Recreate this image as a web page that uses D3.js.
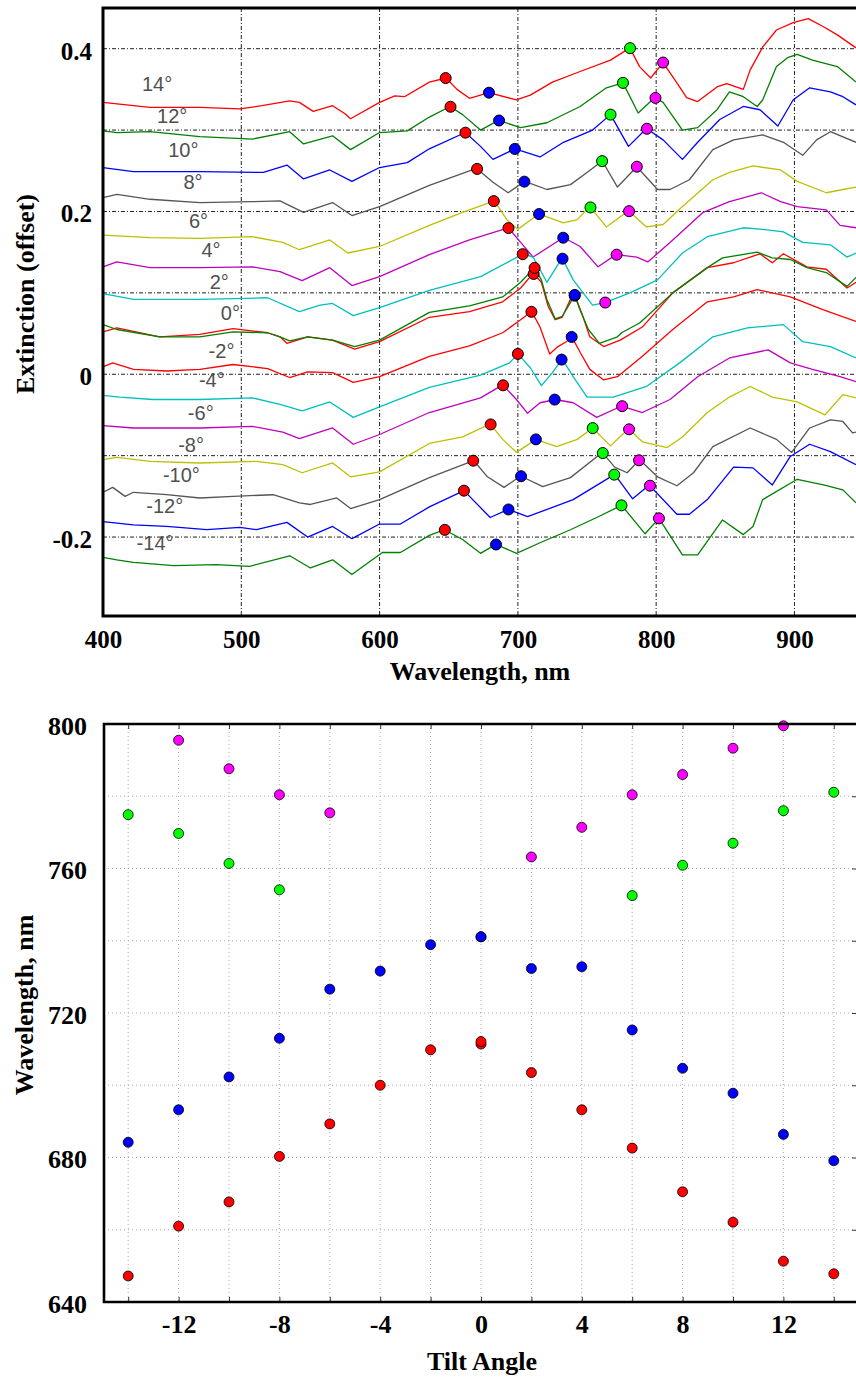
<!DOCTYPE html>
<html lang="en">
<head>
<meta charset="UTF-8">
<title>Extinction spectra vs tilt angle</title>
<script src="https://d3js.org/d3.v7.min.js"></script>
<style>
    body { margin: 0; background: #fff; }
    svg { display: block; }
</style>
</head>
<body>

<svg width="856" height="1378"></svg>

<script>

    // ---- data ----
    var wlTicks = [400, 500, 600, 700, 800, 900];
    var extTicks = [0.4, 0.2, 0, -0.2];
    var extGrid = [0.4, 0.3, 0.2, 0.1, 0, -0.1, -0.2];
    var tiltTicks = [-12, -8, -4, 0, 4, 8, 12];
    var tiltGrid = [-14, -12, -10, -8, -6, -4, -2, 0, 2, 4, 6, 8, 10, 12, 14];
    var peakTicks = [640, 680, 720, 760, 800];
    var peakGrid = [660, 680, 700, 720, 740, 760, 780];

    // one entry per spectrum (0° was measured twice)
    var curveAngles = [14, 12, 10, 8, 6, 4, 2, 0, 0, -2, -4, -6, -8, -10, -12, -14];
    var labelAngles = [14, 12, 10, 8, 6, 4, 2, 0, -2, -4, -6, -8, -10, -12, -14];

    // peak wavelengths (nm) for every spectrum, null = no peak marked
    var redPeak     = [647.8, 651.3, 662.1, 670.5, 682.6, 693.2, 703.5, 711.4, 712.1, 709.8, 700.0, 689.3, 680.3, 667.7, 661.0, 647.2];
    var bluePeak    = [679.1, 686.4, 697.8, 704.7, 715.3, 732.8, 732.3, 741.1, 741.1, 738.9, 731.6, 726.6, 713.0, 702.3, 693.2, 684.2];
    var greenPeak   = [781.1, 776.0, 767.0, 760.9, 752.5, null, null, null, null, null, null, null, 754.1, 761.4, 769.7, 774.9];
    var magentaPeak = [805.0, 799.5, 793.3, 786.0, 780.4, 771.4, 763.2, null, null, null, null, 775.4, 780.4, 787.6, 795.5, 802.0];

    // spectra: [wavelength nm, extinction (offset)]
    var s14 = [[400,0.334],[434,0.328],[470,0.328],[499,0.326],[515,0.330],[535,0.336],[542,0.334],[552,0.323],[566,0.330],[575,0.320],[579,0.314],[600,0.334],[611,0.342],[618,0.341],[636,0.359],[648,0.364],[656,0.350],[665,0.339],[679,0.346],[699,0.337],[709,0.343],[725,0.359],[745,0.372],[767,0.386],[781,0.401],[788,0.378],[796,0.364],[805,0.383],[815,0.358],[822,0.340],[830,0.335],[844,0.353],[851,0.357],[863,0.350],[868,0.374],[877,0.402],[887,0.423],[899,0.432],[910,0.437],[921,0.427],[931,0.417],[944.5,0.401]];
    var s12 = [[400,0.299],[410,0.297],[434,0.298],[470,0.292],[508,0.289],[535,0.298],[545,0.283],[566,0.293],[579,0.276],[600,0.297],[620,0.299],[636,0.316],[651,0.329],[660,0.319],[673,0.300],[686,0.312],[702,0.303],[721,0.309],[745,0.329],[764,0.352],[776,0.358],[787,0.321],[799,0.340],[805,0.334],[819,0.300],[830,0.303],[844,0.325],[853,0.347],[863,0.341],[873,0.329],[877,0.337],[887,0.378],[895,0.389],[902,0.393],[913,0.386],[931,0.378],[944.5,0.359]];
    var s10 = [[400,0.254],[422,0.249],[470,0.249],[516,0.248],[533,0.257],[545,0.240],[564,0.251],[580,0.237],[600,0.254],[620,0.260],[636,0.277],[662,0.297],[673,0.280],[682,0.264],[698,0.277],[716,0.267],[733,0.285],[754,0.300],[767,0.319],[780,0.280],[793,0.302],[805,0.288],[819,0.264],[830,0.285],[846,0.313],[863,0.329],[875,0.325],[888,0.305],[899,0.337],[911,0.352],[926,0.347],[935,0.341],[944.5,0.331]];
    var s8 = [[400,0.217],[410,0.221],[434,0.215],[470,0.211],[508,0.212],[528,0.213],[545,0.199],[566,0.211],[580,0.195],[600,0.206],[636,0.232],[670,0.253],[682,0.236],[693,0.223],[705,0.237],[721,0.227],[738,0.233],[750,0.248],[761,0.262],[772,0.230],[786,0.255],[801,0.227],[810,0.227],[824,0.239],[841,0.276],[856,0.288],[877,0.294],[892,0.285],[906,0.269],[916,0.288],[926,0.298],[944.5,0.285]];
    var s6 = [[400,0.171],[434,0.168],[470,0.167],[508,0.169],[530,0.162],[542,0.153],[564,0.165],[577,0.149],[600,0.157],[636,0.183],[660,0.199],[683,0.213],[692,0.190],[700,0.178],[715,0.197],[733,0.186],[743,0.190],[752,0.206],[764,0.181],[780,0.201],[793,0.181],[805,0.184],[819,0.206],[841,0.239],[853,0.248],[870,0.256],[890,0.251],[902,0.237],[923,0.223],[935,0.227],[944.5,0.230]];
    var s4 = [[400,0.132],[410,0.138],[434,0.131],[470,0.131],[508,0.132],[528,0.126],[544,0.115],[564,0.131],[580,0.109],[600,0.120],[636,0.147],[665,0.165],[693,0.180],[702,0.162],[711,0.144],[733,0.168],[745,0.157],[758,0.132],[771,0.147],[786,0.144],[794,0.138],[810,0.162],[834,0.199],[853,0.212],[876,0.223],[890,0.212],[902,0.206],[923,0.202],[933,0.183],[944.5,0.180]];
    var s2 = [[400,0.099],[422,0.092],[470,0.092],[519,0.094],[542,0.077],[557,0.085],[566,0.087],[581,0.072],[600,0.082],[636,0.103],[673,0.120],[704,0.148],[711,0.144],[721,0.113],[732,0.143],[740,0.116],[754,0.085],[763,0.088],[781,0.100],[801,0.116],[819,0.149],[837,0.169],[863,0.180],[877,0.178],[892,0.175],[906,0.162],[926,0.159],[938,0.144],[944.5,0.149]];
    var s0a = [[400,0.052],[410,0.057],[441,0.046],[470,0.049],[494,0.056],[519,0.051],[528,0.046],[533,0.038],[548,0.046],[566,0.042],[582,0.031],[600,0.040],[636,0.070],[665,0.077],[689,0.089],[702,0.106],[711,0.124],[717,0.113],[722,0.083],[727,0.067],[732,0.070],[738,0.092],[741,0.097],[746,0.076],[752,0.046],[762,0.034],[774,0.042],[790,0.058],[812,0.100],[837,0.131],[856,0.137],[875,0.148],[884,0.137],[892,0.148],[909,0.132],[923,0.129],[938,0.106],[944.5,0.113]];
    var s0b = [[400,0.061],[410,0.055],[441,0.046],[470,0.046],[494,0.052],[519,0.051],[528,0.046],[535,0.041],[548,0.046],[566,0.042],[582,0.034],[600,0.042],[636,0.076],[665,0.084],[689,0.095],[702,0.113],[712,0.131],[717,0.116],[721,0.092],[727,0.068],[732,0.071],[738,0.088],[741,0.098],[745,0.079],[751,0.055],[759,0.038],[772,0.046],[775,0.051],[788,0.063],[812,0.100],[837,0.131],[848,0.143],[873,0.150],[884,0.143],[897,0.141],[909,0.131],[923,0.125],[938,0.108],[944.5,0.119]];
    var sm2 = [[400,0.009],[407,0.014],[422,0.006],[446,0.004],[470,0.006],[494,0.012],[519,0.007],[535,-0.004],[548,0.003],[566,0.002],[581,-0.010],[600,-0.003],[636,0.022],[665,0.035],[689,0.051],[702,0.067],[710,0.077],[716,0.058],[723,0.025],[729,0.034],[735,0.040],[739,0.046],[745,0.027],[752,0.006],[762,-0.007],[772,-0.003],[790,0.022],[812,0.055],[837,0.089],[856,0.095],[873,0.104],[897,0.095],[921,0.079],[944.5,0.065]];
    var sm4 = [[400,-0.026],[412,-0.028],[436,-0.031],[470,-0.031],[508,-0.029],[528,-0.037],[544,-0.045],[564,-0.034],[581,-0.053],[600,-0.040],[636,-0.016],[673,-0.001],[694,0.014],[700,0.025],[709,0.008],[717,-0.014],[725,0.002],[732,0.019],[740,-0.003],[750,-0.028],[769,-0.028],[793,-0.015],[817,0.014],[841,0.046],[866,0.057],[892,0.061],[906,0.040],[926,0.034],[944.5,0.020]];
    var sm6 = [[400,-0.063],[422,-0.066],[470,-0.066],[508,-0.064],[530,-0.071],[542,-0.079],[566,-0.066],[581,-0.086],[600,-0.074],[636,-0.047],[673,-0.029],[689,-0.013],[699,-0.031],[707,-0.048],[716,-0.035],[727,-0.031],[740,-0.035],[757,-0.053],[775,-0.039],[790,-0.047],[810,-0.031],[830,-0.003],[853,0.020],[881,0.030],[897,0.014],[913,0.006],[933,-0.003],[944.5,-0.009]];
    var sm8 = [[400,-0.105],[410,-0.102],[434,-0.107],[470,-0.109],[511,-0.107],[530,-0.111],[544,-0.121],[566,-0.109],[579,-0.126],[600,-0.120],[636,-0.085],[660,-0.077],[680,-0.061],[689,-0.080],[699,-0.096],[713,-0.080],[728,-0.089],[743,-0.080],[754,-0.066],[767,-0.088],[780,-0.067],[790,-0.083],[808,-0.090],[819,-0.077],[837,-0.047],[853,-0.028],[868,-0.015],[884,-0.028],[902,-0.034],[922,-0.050],[935,-0.025],[944.5,-0.029]];
    var sm10 = [[400,-0.145],[407,-0.139],[416,-0.150],[422,-0.145],[446,-0.148],[470,-0.152],[494,-0.150],[523,-0.148],[542,-0.158],[550,-0.160],[569,-0.152],[579,-0.165],[600,-0.154],[636,-0.127],[668,-0.106],[678,-0.126],[690,-0.139],[702,-0.125],[718,-0.138],[738,-0.127],[761,-0.096],[770,-0.114],[779,-0.121],[788,-0.105],[801,-0.126],[815,-0.137],[827,-0.121],[841,-0.089],[868,-0.066],[887,-0.080],[898,-0.096],[911,-0.066],[926,-0.056],[935,-0.058],[942,-0.072],[944.5,-0.071]];
    var sm12 = [[400,-0.181],[422,-0.185],[446,-0.187],[475,-0.191],[499,-0.188],[511,-0.191],[533,-0.182],[548,-0.200],[566,-0.187],[580,-0.202],[600,-0.184],[615,-0.184],[636,-0.163],[661,-0.143],[680,-0.176],[693,-0.166],[707,-0.175],[740,-0.154],[770,-0.123],[783,-0.153],[795,-0.136],[815,-0.172],[824,-0.172],[837,-0.154],[856,-0.114],[870,-0.115],[884,-0.136],[897,-0.101],[911,-0.086],[926,-0.095],[944.5,-0.111]];
    var sm14 = [[400,-0.225],[410,-0.228],[422,-0.231],[451,-0.235],[482,-0.234],[506,-0.236],[535,-0.223],[550,-0.238],[566,-0.228],[580,-0.246],[602,-0.219],[615,-0.219],[636,-0.198],[647,-0.191],[660,-0.203],[673,-0.220],[684,-0.209],[699,-0.220],[716,-0.207],[738,-0.191],[757,-0.176],[775,-0.161],[792,-0.196],[802,-0.177],[819,-0.222],[830,-0.222],[848,-0.179],[863,-0.197],[870,-0.187],[877,-0.154],[902,-0.129],[921,-0.136],[935,-0.142],[944.5,-0.158]];

    var spectra = [s14, s12, s10, s8, s6, s4, s2, s0a, s0b, sm2, sm4, sm6, sm8, sm10, sm12, sm14];

    // ---- styles / layout ----
    var lineColors = ['#ff0000', '#008000', '#0000ff', '#555555', '#bfbf00', '#bf00bf', '#00bfbf', '#ff0000',
                      '#008000', '#ff0000', '#00bfbf', '#bf00bf', '#bfbf00', '#555555', '#0000ff', '#008000'];
    var peakSeries = [
        {values: redPeak, color: '#ff0000'},
        {values: bluePeak, color: '#0000ff'},
        {values: greenPeak, color: '#00ff00'},
        {values: magentaPeak, color: '#ff00ff'}
    ];
    // where each angle label ends (wavelength, extinction)
    var labelAt = [[450,0.348],[461,0.309],[469,0.267],[472,0.228],[476,0.180],[485,0.144],[491,0.105],[499,0.067],
                   [495,0.020],[488,-0.016],[480,-0.056],[473,-0.096],[470,-0.132],[458,-0.170],[451,-0.216]];

    var serif = '"Liberation Serif", "Times New Roman", serif';
    // plain hyphen for negatives, as in the original figure
    var hy = function (f) { return function (d) { return f(d).replace('\u2212', '-'); }; };
    var svg = d3.select('svg');

    // ================= top panel =================
    var x1 = d3.scaleLinear().domain([400, 944.5]).range([103, 856]);
    var y1 = d3.scaleLinear().domain([-0.297, 0.45]).range([616, 8]);

    var topG = svg.append('g');

    // dash-dot grid
    topG.append('g').selectAll('line')
        .data(wlTicks.slice(1))
        .enter().append('line')
        .attr('x1', function (d) { return x1(d); })
        .attr('x2', function (d) { return x1(d); })
        .attr('y1', 8).attr('y2', 616)
        .attr('stroke', '#222').attr('stroke-width', 1)
        .attr('stroke-dasharray', '4,2,1,2');
    topG.append('g').selectAll('line')
        .data(extGrid)
        .enter().append('line')
        .attr('x1', 103).attr('x2', 856)
        .attr('y1', function (d) { return y1(d); })
        .attr('y2', function (d) { return y1(d); })
        .attr('stroke', '#222').attr('stroke-width', 1)
        .attr('stroke-dasharray', '4,2,1,2');

    // spectra
    var line1 = d3.line()
        .x(function (d) { return x1(d[0]); })
        .y(function (d) { return y1(d[1]); });

    topG.append('g').selectAll('path')
        .data(spectra)
        .enter().append('path')
        .attr('d', line1)
        .attr('fill', 'none')
        .attr('stroke', function (d, i) { return lineColors[i]; })
        .attr('stroke-width', 1.3)
        .attr('stroke-linejoin', 'round');

    // value of a spectrum at a given wavelength (to sit markers on the line)
    var bis = d3.bisector(function (d) { return d[0]; }).left;
    function valueAt(curve, wl) {
        var i = bis(curve, wl);
        if (i <= 0) return curve[0][1];
        if (i >= curve.length) return curve[curve.length - 1][1];
        var a = curve[i - 1], b = curve[i];
        return a[1] + (wl - a[0]) / (b[0] - a[0]) * (b[1] - a[1]);
    }

    // peak markers on the spectra
    peakSeries.forEach(function (s) {
        var pts = [];
        s.values.forEach(function (wl, i) {
            if (wl !== null) pts.push([wl, valueAt(spectra[i], wl)]);
        });
        topG.append('g').selectAll('circle')
            .data(pts)
            .enter().append('circle')
            .attr('cx', function (d) { return x1(d[0]); })
            .attr('cy', function (d) { return y1(d[1]); })
            .attr('r', 5.5)
            .attr('fill', s.color)
            .attr('stroke', '#000')
            .attr('stroke-width', 1);
    });

    // angle labels
    topG.append('g').selectAll('text')
        .data(labelAngles)
        .enter().append('text')
        .attr('x', function (d, i) { return x1(labelAt[i][0]); })
        .attr('y', function (d, i) { return y1(labelAt[i][1]); })
        .attr('text-anchor', 'end')
        .attr('font-family', '"Liberation Sans", Arial, sans-serif')
        .attr('font-size', 20)
        .attr('fill', '#505050')
        .text(function (d) { return d + '°'; });

    // frame
    topG.append('path')
        .attr('d', 'M856,8H103V616H856')
        .attr('fill', 'none').attr('stroke', '#000').attr('stroke-width', 3);

    // axes (labels only)
    var axX1 = topG.append('g')
        .attr('transform', 'translate(0,616)')
        .call(d3.axisBottom(x1).tickValues(wlTicks).tickSize(0).tickPadding(14));
    var axY1 = topG.append('g')
        .attr('transform', 'translate(103,0)')
        .call(d3.axisLeft(y1).tickValues(extTicks).tickSize(0).tickPadding(11)
            .tickFormat(hy(function (d) { return d === 0 ? '0' : d3.format('.1f')(d); })));
    [axX1, axY1].forEach(function (a) {
        a.select('.domain').remove();
        a.selectAll('text').attr('font-family', serif).attr('font-weight', 'bold')
            .attr('font-size', 25).attr('fill', '#000');
    });
    axY1.selectAll('text').attr('dy', '0.42em');

    topG.append('text')
        .attr('x', 480).attr('y', 680)
        .attr('text-anchor', 'middle')
        .attr('font-family', serif).attr('font-weight', 'bold').attr('font-size', 26)
        .text('Wavelength, nm');
    topG.append('text')
        .attr('transform', 'translate(34,294) rotate(-90)')
        .attr('text-anchor', 'middle')
        .attr('font-family', serif).attr('font-weight', 'bold').attr('font-size', 26)
        .text('Extinction (offset)');

    // ================= bottom panel =================
    var x2 = d3.scaleLinear().domain([-15, 15]).range([103, 859]);
    var y2 = d3.scaleLinear().domain([640, 800]).range([1302, 724]);

    var botG = svg.append('g');

    // dotted grid
    botG.append('g').selectAll('line')
        .data(tiltGrid)
        .enter().append('line')
        .attr('x1', function (d) { return x2(d); })
        .attr('x2', function (d) { return x2(d); })
        .attr('y1', 724).attr('y2', 1302)
        .attr('stroke', '#aaa').attr('stroke-width', 1).attr('stroke-dasharray', '1,3');
    botG.append('g').selectAll('line')
        .data(peakGrid)
        .enter().append('line')
        .attr('x1', 104).attr('x2', 859)
        .attr('y1', function (d) { return y2(d); })
        .attr('y2', function (d) { return y2(d); })
        .attr('stroke', '#aaa').attr('stroke-width', 1).attr('stroke-dasharray', '1,3');

    // small inward ticks on the frame
    botG.append('g').call(d3.axisTop(x2).tickValues(tiltGrid).tickSize(-5).tickFormat(''))
        .attr('transform', 'translate(0,724)');
    botG.append('g').call(d3.axisBottom(x2).tickValues(tiltGrid).tickSize(-5).tickFormat(''))
        .attr('transform', 'translate(0,1302)');
    botG.append('g').call(d3.axisRight(y2).tickValues(peakGrid).tickSize(-7).tickFormat(''))
        .attr('transform', 'translate(859,0)');
    botG.selectAll('.domain').remove();
    botG.selectAll('.tick line').attr('stroke', '#333');

    // peak positions vs tilt
    peakSeries.forEach(function (s) {
        var pts = [];
        s.values.forEach(function (wl, i) {
            if (wl !== null && wl <= 800) pts.push([curveAngles[i], wl]);
        });
        botG.append('g').selectAll('circle')
            .data(pts)
            .enter().append('circle')
            .attr('cx', function (d) { return x2(d[0]); })
            .attr('cy', function (d) { return y2(d[1]); })
            .attr('r', 5)
            .attr('fill', s.color)
            .attr('stroke', '#000')
            .attr('stroke-width', 0.8);
    });

    botG.append('path')
        .attr('d', 'M856,724H104V1302H856')
        .attr('fill', 'none').attr('stroke', '#000').attr('stroke-width', 2.6);

    var axX2 = botG.append('g')
        .attr('transform', 'translate(0,1302)')
        .call(d3.axisBottom(x2).tickValues(tiltTicks).tickSize(0).tickPadding(13)
            .tickFormat(hy(d3.format('d'))));
    var axY2 = botG.append('g')
        .attr('transform', 'translate(104,0)')
        .call(d3.axisLeft(y2).tickValues(peakTicks).tickSize(0).tickPadding(17));
    [axX2, axY2].forEach(function (a) {
        a.select('.domain').remove();
        a.selectAll('text').attr('font-family', serif).attr('font-weight', 'bold')
            .attr('font-size', 26).attr('fill', '#000');
    });
    axY2.selectAll('text').attr('dy', '0.4em');

    botG.append('text')
        .attr('x', 482).attr('y', 1370)
        .attr('text-anchor', 'middle')
        .attr('font-family', serif).attr('font-weight', 'bold').attr('font-size', 26)
        .text('Tilt Angle');
    botG.append('text')
        .attr('transform', 'translate(33,1005) rotate(-90)')
        .attr('text-anchor', 'middle')
        .attr('font-family', serif).attr('font-weight', 'bold').attr('font-size', 26)
        .text('Wavelength, nm');

</script>
</body>
</html>
